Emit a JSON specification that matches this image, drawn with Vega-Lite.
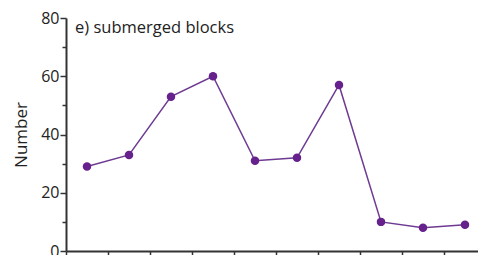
{
  "$schema": "https://vega.github.io/schema/vega-lite/v6.json",
  "width": 412,
  "height": 233,
  "autosize": {"type": "none"},
  "padding": {"left": 66, "top": 18, "right": 0, "bottom": 4},
  "background": "white",
  "config": {"view": {"stroke": null}, "font": "Open Sans"},
  "title": {
    "text": "e) submerged blocks",
    "anchor": "start",
    "frame": "group",
    "orient": "top",
    "baseline": "alphabetic",
    "dx": 9,
    "offset": -39,
    "fontSize": 16.5,
    "fontWeight": "normal",
    "font": "Open Sans",
    "color": "#222222"
  },
  "data": {
    "values": [
      {"site": 1, "number": 29},
      {"site": 2, "number": 33},
      {"site": 3, "number": 53},
      {"site": 4, "number": 60},
      {"site": 5, "number": 31},
      {"site": 6, "number": 32},
      {"site": 7, "number": 57},
      {"site": 8, "number": 10},
      {"site": 9, "number": 8},
      {"site": 10, "number": 9}
    ]
  },
  "encoding": {
    "x": {
      "field": "site",
      "type": "quantitative",
      "scale": {"domain": [0.5, 10.31], "nice": false, "zero": false},
      "axis": {
        "title": null,
        "values": [0.5, 1.5, 2.5, 3.5, 4.5, 5.5, 6.5, 7.5, 8.5, 9.5],
        "labels": false,
        "grid": false,
        "domainColor": "#333333",
        "domainWidth": 2,
        "tickColor": "#333333",
        "tickWidth": 1.5,
        "tickSize": 5
      }
    },
    "y": {
      "field": "number",
      "type": "quantitative",
      "scale": {"domain": [0, 80], "nice": false},
      "axis": {
        "title": "Number",
        "titleFont": "Open Sans",
        "titleFontSize": 17,
        "titleFontWeight": "normal",
        "titleColor": "#222222",
        "titlePadding": 10,
        "values": [0, 10, 20, 30, 40, 50, 60, 70, 80],
        "labelExpr": "datum.value % 20 === 0 ? datum.label : ''",
        "labelFont": "Open Sans",
        "labelFontSize": 16,
        "labelColor": "#222222",
        "labelPadding": 1,
        "grid": false,
        "domainColor": "#333333",
        "domainWidth": 2,
        "tickColor": "#333333",
        "tickWidth": 1.5,
        "tickSize": {"condition": {"test": "datum.value % 20 === 0", "value": 6}, "value": 4}
      }
    }
  },
  "layer": [
    {"mark": {"type": "line", "color": "#6e3a92", "strokeWidth": 1.5}},
    {"mark": {"type": "point", "filled": true, "opacity": 1, "size": 72, "color": "#66218c"}}
  ]
}
